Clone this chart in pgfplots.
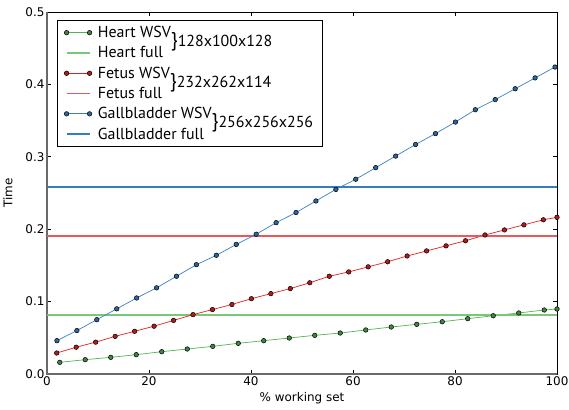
\documentclass[border=0pt]{standalone}
\usepackage{fontspec}
\setmainfont{DejaVu Sans}
\newfontfamily\legfont{PT Sans}
\usepackage{pgfplots}
\pgfplotsset{compat=1.18}
\definecolor{heartwsv}{RGB}{85,178,85}
\definecolor{heartfull}{RGB}{120,200,120}
\definecolor{fetuswsv}{RGB}{226,32,32}
\definecolor{fetusfull}{RGB}{232,90,90}
\definecolor{gallwsv}{RGB}{58,128,195}
\definecolor{gallfull}{RGB}{52,124,196}
\definecolor{spine}{RGB}{105,105,105}
\begin{document}
\begin{tikzpicture}
\begin{axis}[
  name=ax,
  scale only axis,
  width=510bp, height=362bp,
  xmin=0, xmax=100, ymin=0, ymax=0.5,
  xtick={0,20,40,60,80,100},
  ytick={0,0.1,0.2,0.3,0.4,0.5},
  yticklabel style={/pgf/number format/fixed, /pgf/number format/fixed zerofill, /pgf/number format/precision=1},
  /pgf/number format/assume math mode=true,
  tick align=inside,
  major tick length=4bp,
  tick style={black, line width=0.6pt},
  axis line style={black, line width=0.6pt},
  ticklabel style={font=\fontsize{12}{14}\selectfont},
  xticklabel style={yshift=1bp},
  yticklabel style={xshift=1bp},
  xlabel={\% working set},
  ylabel={Time},
  label style={font=\fontsize{12}{14}\selectfont},
  xlabel style={yshift=0bp},
  ylabel style={yshift=6bp},
  legend style={at={(0,1)}, anchor=north west, xshift=10bp, yshift=-8bp,
    draw=black, line width=0.6pt, font=\legfont\fontsize{16}{18}\selectfont,
    row sep=3.5bp, column sep=4bp, inner xsep=7bp, inner ysep=4bp},
  legend cell align=left,
  legend image code/.code={\draw[#1] plot coordinates {(0bp,0bp) (23bp,0bp)};},
  clip=false,
]
\draw[draw=spine, line width=1.6pt] (rel axis cs:0,1) -- (rel axis cs:0,0) -- (rel axis cs:1,0);
\addplot[color=heartwsv, line width=0.7pt, mark=*, mark size=2.3pt, mark options={draw=black, line width=0.5pt, fill=heartwsv!75!black}] coordinates {
(2.5,0.0161) (7.5,0.0198) (12.5,0.0230) (17.5,0.0267) (22.5,0.0308) (27.5,0.0345)
(32.5,0.0382) (37.5,0.0424) (42.5,0.0460) (47.5,0.0497) (52.5,0.0534) (57.5,0.0566)
(62.5,0.0608) (67.5,0.0649) (72.5,0.0686) (77.5,0.0722) (82.5,0.0764) (87.5,0.0805)
(92.5,0.0843) (97.5,0.0884) (100,0.0898)};
\addlegendentry{Heart WSV\raisebox{-9bp}[0pt][0pt]{\fontsize{20}{20}\selectfont\}\fontsize{16}{18}\selectfont128x100x128}}
\addplot[color=heartfull, draw=heartfull, line width=1.4pt, mark=none] coordinates {(0,0.0815) (100,0.0815)};
\addlegendentry{Heart full}
\addplot[color=fetuswsv, line width=0.7pt, mark=*, mark size=2.3pt, mark options={draw=black, line width=0.5pt, fill=fetuswsv!80!black}] coordinates {
(1.908,0.029) (5.725,0.037) (9.542,0.044) (13.359,0.052) (17.176,0.059) (20.992,0.066)
(24.809,0.074) (28.626,0.082) (32.443,0.089) (36.260,0.096) (40.076,0.104) (43.893,0.111)
(47.710,0.118) (51.527,0.126) (55.344,0.135) (59.160,0.141) (62.977,0.148) (66.794,0.155)
(70.611,0.163) (74.427,0.170) (78.244,0.177) (82.061,0.184) (85.878,0.192) (89.695,0.199)
(93.511,0.206) (97.328,0.213) (100,0.2164)};
\addlegendentry{Fetus WSV\raisebox{-9bp}[0pt][0pt]{\fontsize{20}{20}\selectfont\}\fontsize{16}{18}\selectfont232x262x114}}
\addplot[color=fetusfull, draw=fetusfull, line width=1.6pt, mark=none] coordinates {(0,0.191) (100,0.191)};
\addlegendentry{Fetus full}
\addplot[color=gallwsv, line width=0.7pt, mark=*, mark size=2.3pt, mark options={draw=black, line width=0.5pt, fill=gallwsv!80!black}] coordinates {
(1.953,0.046) (5.859,0.060) (9.766,0.075) (13.672,0.090) (17.578,0.105) (21.484,0.119)
(25.391,0.135) (29.297,0.151) (33.203,0.164) (37.109,0.179) (41.016,0.193) (44.922,0.209)
(48.828,0.223) (52.734,0.239) (56.641,0.255) (60.547,0.269) (64.453,0.285) (68.359,0.301)
(72.266,0.317) (76.172,0.332) (80.078,0.348) (83.984,0.365) (87.891,0.379) (91.797,0.394)
(95.703,0.409) (99.609,0.424)};
\addlegendentry{Gallbladder WSV\raisebox{-9bp}[0pt][0pt]{\fontsize{20}{20}\selectfont\}\fontsize{16}{18}\selectfont256x256x256}}
\addplot[color=gallfull, draw=gallfull, line width=1.5pt, mark=none] coordinates {(0,0.258) (100,0.258)};
\addlegendentry{Gallbladder full}
\end{axis}
\pgfresetboundingbox
\path[use as bounding box] ([xshift=-47bp,yshift=-36bp]ax.south west) rectangle ([xshift=12bp,yshift=12bp]ax.north east);
\end{tikzpicture}
\end{document}
